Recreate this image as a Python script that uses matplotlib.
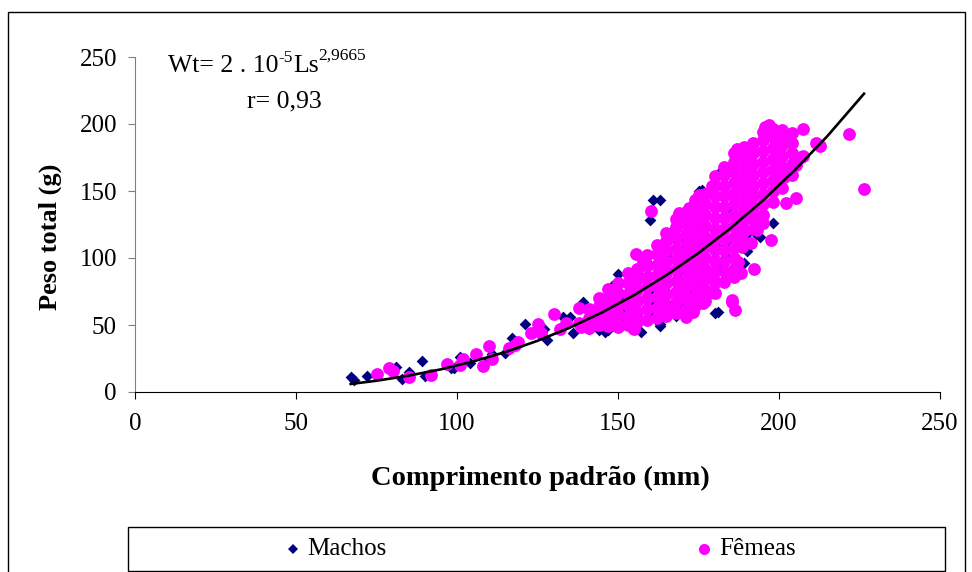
import matplotlib
matplotlib.use('Agg')
import matplotlib.pyplot as plt
from matplotlib.lines import Line2D
from matplotlib.patches import Rectangle

plt.rcParams['font.family'] = ['Liberation Serif', 'DejaVu Serif']

# Machos - pontos isolados (Ls mm, Wt g)
machos_baixo = [(67, 11), (68, 9), (72, 12), (81, 19), (83, 10), (85, 15), (89, 23), (90, 12),
                (98, 18), (99, 18), (101, 26), (104, 22), (110, 25), (111, 28), (115, 29), (117, 40),
                (121, 51), (127, 47), (128, 39), (133, 56), (135, 56), (136, 44), (139, 67), (139, 65),
                (141, 60), (141, 47), (142, 61), (144, 46), (146, 45), (146, 69), (147, 46), (148, 49),
                (148, 79), (150, 88), (152, 59), (157, 86), (157, 45), (158, 98), (159, 54), (163, 49),
                (163, 51), (168, 57), (171, 64), (172, 73), (180, 59), (181, 60)]
machos_altos = [(160, 128), (161, 143), (163, 143), (166, 119), (168, 113), (175, 150), (176, 151),
                (182, 165), (183, 91), (184, 101), (184, 108), (186, 106), (187, 121), (189, 96),
                (191, 147), (193, 118), (194, 116), (198, 126), (171, 126), (176, 128), (177, 123),
                (181, 93), (175, 128)]
# Machos - nucleo da nuvem (por coluna de Ls)
machos_nucleo_x = [145, 150, 155, 160, 165, 170, 175, 180, 185, 190]
machos_nucleo_y = [[55, 62], [54, 62, 70], [55, 64, 73, 82], [58, 67, 76, 86, 95],
                   [62, 72, 82, 92, 102], [66, 76, 86, 96, 106, 116], [72, 82, 92, 102, 112, 122],
                   [80, 90, 100, 110, 120, 130, 140], [90, 100, 112, 124, 136, 148],
                   [105, 118, 130, 142, 155]]

# Femeas - pontos isolados
femeas_baixo = [(75, 13.4), (79, 17.6), (80, 15.7), (85, 11), (92, 12.9), (97, 20.6), (101, 20.1),
                (102, 25), (106, 28), (108, 19.4), (110, 34.3), (111, 25), (116, 32.6), (118, 35.1),
                (119, 37.5), (123, 43.8), (125, 50.7), (126, 43.8), (130, 58.2), (132, 46.8),
                (134, 51.2), (138, 62.4), (138, 51.2), (138.5, 48.7), (144, 63.7), (145, 58.7),
                (147, 55), (148, 61.2), (149, 51.2), (149, 56.2), (150, 48.7), (155, 46.8),
                (156, 54.2), (154.6, 48)]
femeas_dispersos = [(155.6, 103), (157.7, 98), (160.3, 135.3), (169, 133.8), (172, 137), (175, 147),
                    (179.2, 153.7), (187, 181), (195.5, 198), (197, 199.3), (201, 195.5), (204, 193),
                    (207.3, 196), (221.6, 192.5), (211.4, 186), (212.6, 183.6), (207.3, 176),
                    (206.8, 175.6), (205.2, 169.4), (202.1, 165.7), (201.6, 160.7), (202.3, 140.8),
                    (205.4, 144.5), (226.4, 151.5), (192.8, 128.8), (194.9, 125.9), (193.3, 120.9),
                    (197.5, 113.4), (191.3, 111), (188.5, 108.4), (187.4, 97.2), (192.3, 91.6),
                    (188.2, 88.6), (186.1, 86), (179.4, 84.8), (185.4, 67.4), (186.4, 61.2),
                    (185.3, 68.7), (176.3, 66.6), (178.3, 74.1), (171, 56.2), (173.2, 59.9),
                    (165.4, 60.7), (176.2, 71), (172.1, 60)]
# Femeas - nucleo da nuvem (por coluna de Ls)
femeas_nucleo_x = [141, 144, 147, 150, 153, 156, 159, 162, 165, 168, 171, 174, 177, 180, 183,
                   186, 189, 192, 195, 198, 201, 204]
femeas_nucleo_y = [[48, 55, 62], [50, 57, 64, 70], [49, 56, 63, 70, 77], [51, 58, 66, 74, 81],
                   [50, 57, 65, 73, 81, 89], [52, 60, 68, 76, 84, 92],
                   [54, 62, 70, 78, 86, 94, 102], [55, 63, 71, 79, 87, 95, 103, 110],
                   [57, 65, 73, 81, 89, 97, 105, 113, 119], [59, 67, 75, 83, 91, 99, 107, 115, 123, 129],
                   [62, 70, 78, 86, 94, 102, 110, 118, 126, 134],
                   [64, 72, 80, 88, 96, 104, 112, 120, 128, 136, 143],
                   [68, 76, 84, 92, 100, 108, 116, 124, 132, 140, 148],
                   [74, 82, 90, 98, 106, 114, 122, 130, 138, 146, 154, 161],
                   [82, 90, 98, 106, 114, 122, 130, 138, 146, 154, 162, 168],
                   [92, 100, 108, 116, 124, 132, 140, 148, 156, 164, 172, 178],
                   [112, 120, 128, 136, 144, 152, 160, 168, 176, 183],
                   [122, 130, 138, 146, 154, 162, 170, 178, 186],
                   [132, 140, 148, 156, 164, 172, 180, 188, 194],
                   [142, 150, 158, 166, 174, 182, 190, 196],
                   [152, 160, 168, 176, 184, 191], [162, 170, 178, 186]]

# Curva ajustada
curva_x = [67, 75, 85, 95, 105, 115, 125, 135, 145, 155, 165, 175, 185, 195, 205, 215, 226.4]
curva_y = [6.0, 8.4, 12.2, 16.9, 22.8, 29.8, 38.2, 48.0, 59.3, 72.3, 87.1, 103.7, 122.3,
           142.9, 165.8, 190.9, 222.6]

NAVY = '#000080'
MAGENTA = '#FF00FF'


def juntar(pares, col_x, col_y):
    xs = [p[0] for p in pares]
    ys = [p[1] for p in pares]
    for x, col in zip(col_x, col_y):
        for y in col:
            xs.append(x)
            ys.append(y)
    return xs, ys


mx, my = juntar(machos_baixo + machos_altos, machos_nucleo_x, machos_nucleo_y)
fx, fy = juntar(femeas_baixo + femeas_dispersos, femeas_nucleo_x, femeas_nucleo_y)

fig = plt.figure(figsize=(9.72, 5.72), dpi=100)
W, H = 972, 572
ax = fig.add_axes([135 / W, 1 - 392 / H, (940 - 135) / W, (392 - 57) / H])

ax.scatter(mx, my, marker='D', s=36, c=NAVY, linewidths=0, zorder=2)
ax.scatter(fx, fy, marker='o', s=85, c=MAGENTA, linewidths=0, zorder=3)
ax.plot(curva_x, curva_y, color='black', linewidth=1.9, zorder=4)

ax.set_xlim(0, 250)
ax.set_ylim(0, 250)
ax.set_xticks(range(0, 251, 50))
ax.set_yticks(range(0, 251, 50))
ax.spines['top'].set_visible(False)
ax.spines['right'].set_visible(False)
ax.spines['left'].set_color('#808080')
ax.spines['bottom'].set_color('black')
ax.tick_params(axis='y', direction='out', length=5, color='#808080', pad=8, labelsize=18)
ax.tick_params(axis='x', direction='out', length=5, color='black', pad=10, labelsize=18)

fig.text(50 / W, 1 - 237 / H, 'Peso total (g)', rotation=90, fontweight='bold', fontsize=19,
         ha='center', va='center')
fig.text(540 / W, 1 - 478 / H, 'Comprimento padrão (mm)', fontweight='bold', fontsize=20.5,
         ha='center', va='center')

# equacao da curva, com expoentes montados peca por peca
rend = fig.canvas.get_renderer()
pecas = [('Wt= 2 . 10', 18.5, 0), ('-5', 12.5, 10), ('Ls', 18.5, 0), ('2,9665', 12.5, 12)]
xpos = 168
for txt, tam, sobe in pecas:
    t = fig.text(xpos / W, (H - 72 + sobe) / H, txt, fontsize=tam, va='baseline')
    xpos = t.get_window_extent(rend).x1
fig.text(247 / W, 1 - 107 / H, 'r= 0,93', fontsize=18.5, va='baseline')

# moldura externa
fig.add_artist(Rectangle((8 / W, -0.01), (965 - 8) / W, 1 - 12 / H + 0.01, transform=fig.transFigure,
                         fill=False, edgecolor='black', linewidth=1))

# legenda
fig.add_artist(Rectangle((128 / W, 1 - 571 / H), (945 - 128) / W, (571 - 527) / H,
                         transform=fig.transFigure, fill=False, edgecolor='black', linewidth=1))
fig.add_artist(Line2D([293 / W], [1 - 549 / H], marker='D', markersize=5.5, color=NAVY,
                      markeredgewidth=0, linestyle='none', transform=fig.transFigure))
fig.text(307 / W, 1 - 549 / H, 'Machos', fontsize=18, va='center')
fig.add_artist(Line2D([704 / W], [1 - 549 / H], marker='o', markersize=8, color=MAGENTA,
                      markeredgewidth=0, linestyle='none', transform=fig.transFigure))
fig.text(719 / W, 1 - 549 / H, 'Fêmeas', fontsize=18, va='center')

fig.savefig('out.png', dpi=100)
